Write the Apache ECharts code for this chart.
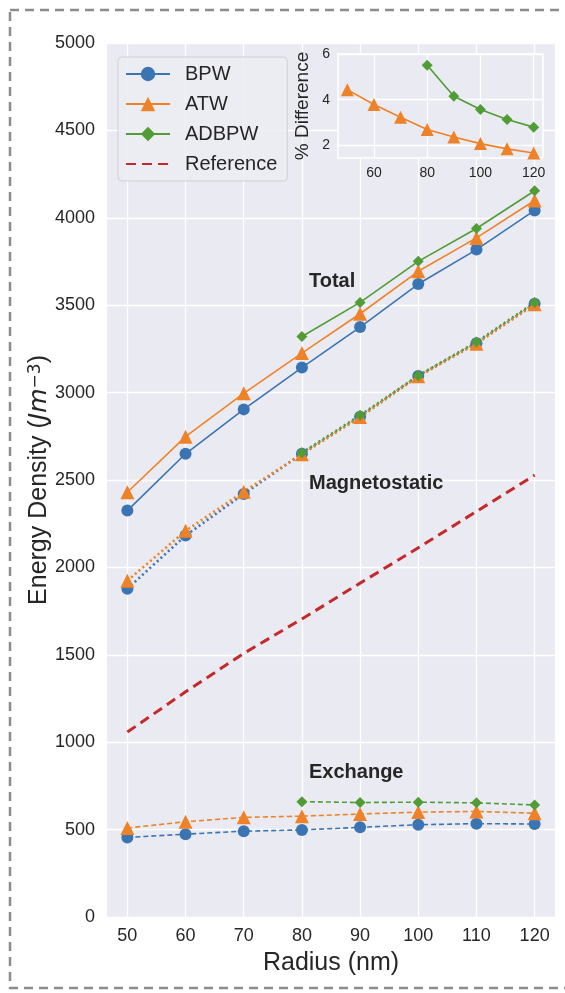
<!DOCTYPE html>
<html>
<head>
<meta charset="utf-8">
<script src="https://cdn.jsdelivr.net/npm/echarts@6/dist/echarts.min.js"></script>
<style>
  html, body { margin: 0; padding: 0; background: #fff; }
  #main { width: 565px; height: 993px; }
</style>
</head>
<body>
<div id="main"></div>
<script>
// radius values (nm)
var radius = [50, 60, 70, 80, 90, 100, 110, 120];
var radiusAD = [80, 90, 100, 110, 120];

// total energy density
var totalBPW = [2325, 2650, 2904, 3143, 3375, 3621, 3818, 4042];
var totalATW = [2430, 2748, 2996, 3226, 3451, 3694, 3885, 4099];
var totalAD = [3321, 3516, 3751, 3939, 4155];

// magnetostatic
var magBPW = [1878, 2182, 2420, 2650, 2862, 3095, 3283, 3508];
var magATW = [1924, 2209, 2433, 2648, 2860, 3093, 3280, 3505];
var magAD = [2656, 2870, 3097, 3289, 3516];

// exchange
var exBPW = [455, 474, 491, 498, 513, 528, 534, 532];
var exATW = [509, 545, 570, 577, 589, 600, 604, 594];
var exAD = [660, 655, 657, 653, 641];

// reference (analytic)
var reference = [1058, 1288, 1508, 1705, 1910, 2112, 2320, 2528];

// inset: % difference
var diffATW = [4.44, 3.79, 3.23, 2.70, 2.37, 2.08, 1.85, 1.67];
var diffAD = [5.51, 4.15, 3.57, 3.13, 2.80];

var xTicks = [50, 60, 70, 80, 90, 100, 110, 120];
var insetXTicks = [60, 80, 100, 120];
var insetYTicks = [2, 4, 6];

var blue = '#3b74b3';
var orange = '#ee8228';
var green = '#519c34';
var red = '#c42a2c';
var ink = '#262626';
var font = 'Liberation Sans';

function pairs(xs, ys) {
  var out = [];
  for (var i = 0; i < xs.length; i++) {
    out.push([xs[i], ys[i]]);
  }
  return out;
}

var myChart = echarts.init(document.getElementById('main'));

function mainLine(name, xs, ys, color, symbol, size, lineType, width) {
  return {
    name: name,
    type: 'line',
    xAxisIndex: 0,
    yAxisIndex: 0,
    data: pairs(xs, ys),
    symbol: symbol,
    symbolSize: size,
    itemStyle: { color: color },
    lineStyle: { color: color, width: width, type: lineType },
    z: 3
  };
}

var option = {
  animation: false,
  backgroundColor: '#ffffff',
  textStyle: { fontFamily: font },
  grid: [{
      left: 107,
      top: 43,
      width: 448,
      height: 874,
      show: true,
      backgroundColor: '#eaeaf2',
      borderWidth: 0,
      z: 0
    },
    {
      left: 338,
      top: 54,
      width: 205,
      height: 104,
      show: true,
      backgroundColor: '#eaeaf2',
      borderColor: '#ffffff',
      borderWidth: 1.5,
      z: 5
    }
  ],
  legend: {
    data: ['BPW', 'ATW', 'ADBPW', 'Reference'],
    orient: 'vertical',
    left: 118,
    top: 57,
    backgroundColor: 'rgba(236,236,243,0.85)',
    borderColor: '#cfcfd6',
    borderWidth: 1,
    borderRadius: 4,
    padding: [7, 10, 7, 7],
    itemGap: 10,
    itemWidth: 44,
    itemHeight: 18,
    textStyle: {
      fontFamily: font,
      fontSize: 20,
      color: ink,
      padding: [0, 0, 0, 10]
    },
    z: 6
  },
  xAxis: [{
      type: 'value',
      gridIndex: 0,
      min: 46.5,
      max: 123.5,
      name: 'Radius (nm)',
      nameLocation: 'middle',
      nameGap: 34,
      nameTextStyle: { fontSize: 25, color: ink, fontFamily: font },
      axisLine: { show: false },
      axisTick: { show: false, customValues: xTicks },
      axisLabel: { customValues: xTicks, fontSize: 18, color: ink, margin: 10, fontFamily: font },
      splitLine: { show: true, lineStyle: { color: '#ffffff', width: 1.3 } }
    },
    {
      type: 'value',
      gridIndex: 1,
      min: 46.5,
      max: 123.5,
      axisLine: { show: false },
      axisTick: { show: false, customValues: insetXTicks },
      axisLabel: { customValues: insetXTicks, fontSize: 14, color: ink, margin: 8, fontFamily: font },
      splitLine: { show: true, lineStyle: { color: '#ffffff', width: 1.3 } },
      z: 6
    }
  ],
  yAxis: [{
      type: 'value',
      gridIndex: 0,
      min: 0,
      max: 5000,
      interval: 500,
      name: '{a|Energy Density (}{i|Jm}{s|\u22123}{a|)}',
      nameLocation: 'middle',
      nameGap: 55,
      nameMoveOverlap: false,
      nameTextStyle: {
        rich: {
          a: { fontSize: 25, color: ink, fontFamily: font },
          i: { fontSize: 25, color: ink, fontFamily: 'DejaVu Sans', fontStyle: 'italic' },
          s: { fontSize: 17, color: ink, fontFamily: 'DejaVu Sans', verticalAlign: 'top' }
        }
      },
      axisLine: { show: false },
      axisTick: { show: false },
      axisLabel: {
        fontSize: 18,
        color: ink,
        margin: 12,
        fontFamily: font,
        formatter: function (v) { return String(v); }
      },
      splitLine: { show: true, lineStyle: { color: '#ffffff', width: 1.3 } }
    },
    {
      type: 'value',
      gridIndex: 1,
      min: 1.45,
      max: 6.0,
      name: '% Difference',
      nameLocation: 'middle',
      nameGap: 26,
      nameTextStyle: { fontSize: 19, color: ink, fontFamily: font },
      axisLine: { show: false },
      axisTick: { show: false, customValues: insetYTicks },
      axisLabel: { customValues: insetYTicks, fontSize: 14, color: ink, margin: 8, fontFamily: font },
      splitLine: { show: true, lineStyle: { color: '#ffffff', width: 1.3 } },
      z: 6
    }
  ],
  graphic: [{
      type: 'rect',
      shape: { x: 10, y: 10, width: 640, height: 978 },
      style: { fill: 'none', stroke: '#8c8c8c', lineWidth: 2.5, lineDash: [9, 6] },
      silent: true,
      z: 100
    },
    {
      type: 'text',
      left: 309,
      top: 271,
      style: { text: 'Total', font: 'bold 20px "Liberation Sans"', fill: ink },
      z: 10
    },
    {
      type: 'text',
      left: 309,
      top: 473,
      style: { text: 'Magnetostatic', font: 'bold 20px "Liberation Sans"', fill: ink },
      z: 10
    },
    {
      type: 'text',
      left: 309,
      top: 762,
      style: { text: 'Exchange', font: 'bold 20px "Liberation Sans"', fill: ink },
      z: 10
    }
  ],
  series: [
    mainLine('BPW', radius, totalBPW, blue, 'circle', 12, 'solid', 1.6),
    mainLine('ATW', radius, totalATW, orange, 'triangle', 14, 'solid', 1.6),
    mainLine('ADBPW', radiusAD, totalAD, green, 'diamond', [11, 11], 'solid', 1.6),
    {
      name: 'Reference',
      type: 'line',
      xAxisIndex: 0,
      yAxisIndex: 0,
      data: pairs(radius, reference),
      symbol: 'circle',
      showSymbol: false,
      itemStyle: { color: 'rgba(0,0,0,0)', borderWidth: 0 },
      lineStyle: { color: red, width: 3, type: [10, 6] },
      z: 3
    },
    mainLine('BPW', radius, magBPW, blue, 'circle', 12, [2, 3], 2.6),
    mainLine('ATW', radius, magATW, orange, 'triangle', 14, [2, 3], 2.6),
    mainLine('ADBPW', radiusAD, magAD, green, 'diamond', [11, 11], [2, 3], 2.6),
    mainLine('BPW', radius, exBPW, blue, 'circle', 12, [5, 3], 1.6),
    mainLine('ATW', radius, exATW, orange, 'triangle', 14, [5, 3], 1.6),
    mainLine('ADBPW', radiusAD, exAD, green, 'diamond', [11, 11], [5, 3], 1.6),
    {
      name: 'ATW %',
      type: 'line',
      xAxisIndex: 1,
      yAxisIndex: 1,
      data: pairs(radius, diffATW),
      symbol: 'triangle',
      symbolSize: 13,
      itemStyle: { color: orange },
      lineStyle: { color: orange, width: 1.6 },
      z: 8
    },
    {
      name: 'ADBPW %',
      type: 'line',
      xAxisIndex: 1,
      yAxisIndex: 1,
      data: pairs(radiusAD, diffAD),
      symbol: 'diamond',
      symbolSize: [11, 11],
      itemStyle: { color: green },
      lineStyle: { color: green, width: 1.6 },
      z: 8
    }
  ]
};

option && myChart.setOption(option);
</script>
</body>
</html>
